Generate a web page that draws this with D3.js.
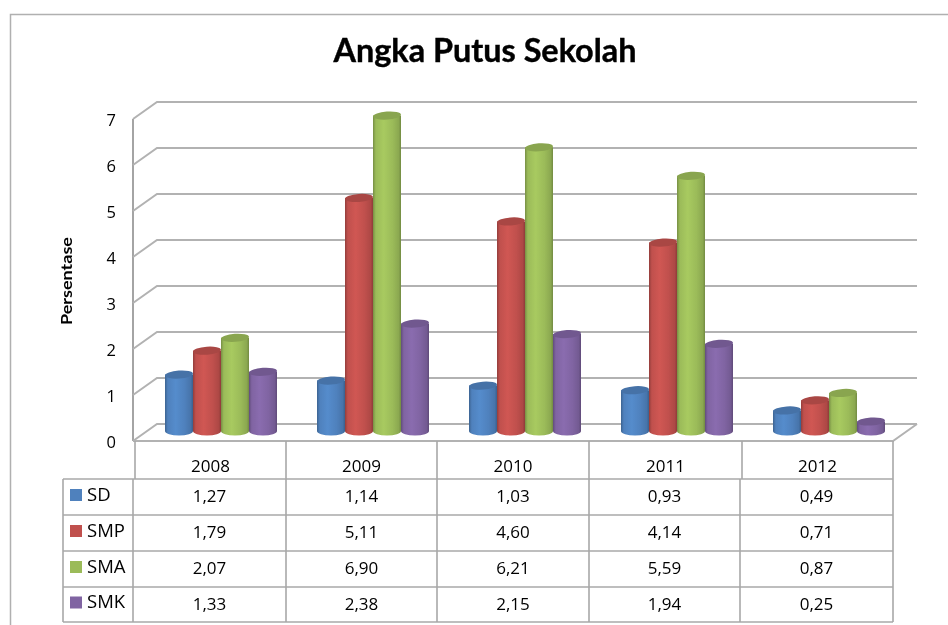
<!DOCTYPE html>
<html><head><meta charset="utf-8">
<script src="https://cdn.jsdelivr.net/npm/d3@7/dist/d3.min.js"></script>
<style>html,body{margin:0;padding:0;background:#fff}svg{display:block;filter:blur(0.35px)}text{fill:#000}</style>
</head><body><svg id="c" width="948" height="625"></svg>
<script>
const years = ["2008","2009","2010","2011","2012"];
const seriesNames = ["SD","SMP","SMA","SMK"];
const SD  = [1.27,1.14,1.03,0.93,0.49];
const SMP = [1.79,5.11,4.60,4.14,0.71];
const SMA = [2.07,6.90,6.21,5.59,0.87];
const SMK = [1.33,2.38,2.15,1.94,0.25];
const seriesValues = [SD,SMP,SMA,SMK];
const seriesColors = ["#4f81bd","#c0504d","#9bbb59","#8064a2"];
const yTicks = [0,1,2,3,4,5,6,7];
const titleText = "Angka Putus Sekolah";
const axisTitle = "Persentase";

const fmt = v => v.toFixed(2).replace(".",",");
const svg = d3.select("#c");
const FONT = "'Open Sans',sans-serif";
const GRID = "#b2b2b2";
const dx = 24, dy = 17;

const y = d3.scaleLinear().domain([0,7]).range([441,119]);
const outer = d3.scaleBand().domain(years).range([145,905]).paddingInner(40/152).paddingOuter(20/152);
const inner = d3.scaleBand().domain(seriesNames).range([0,outer.bandwidth()]);

const defs = svg.append("defs");
seriesColors.forEach((c,i)=>{
  const g = defs.append("linearGradient").attr("id","g"+i);
  const col = d3.color(c);
  [[0,col.darker(.75)],[.1,col],[.38,col.brighter(.22)],[.7,col],[.92,col.darker(.3)],[1,col.darker(.85)]]
    .forEach(([o,k])=>g.append("stop").attr("offset",o).attr("stop-color",k));
});

// page frame
svg.append("path").attr("d","M10.5,625V14.5H948").attr("fill","none").attr("stroke","#b0b0b0").attr("stroke-width",1.5);

svg.append("text").attr("x",485).attr("y",62).attr("text-anchor","middle")
  .attr("font-family","Lato,sans-serif").attr("font-weight",700).attr("font-size",32)
  .style("fill","#000").style("stroke","#000").style("stroke-width",.4)
  .attr("textLength",303).attr("lengthAdjust","spacingAndGlyphs").text(titleText);

// walls and floor
const wall = svg.append("g").attr("fill","none").attr("stroke",GRID).attr("stroke-width",2);
wall.append("path").attr("d",`M133,${y(7)}V${y(0)}`).attr("stroke","#a4a4a4");
wall.selectAll(".grid").data(yTicks).join("path").attr("class","grid")
  .attr("d",d=>`M133,${y(d)}L${133+dx},${y(d)-dy}H917`);
wall.append("path").attr("d",`M133,${y(0)}H893L917,${y(0)-dy}`);

// y axis labels
const axis = svg.append("g").attr("transform","translate(116,1)")
  .call(d3.axisLeft(y).tickValues(yTicks).tickSize(0).tickPadding(0).tickFormat(d3.format("d")));
axis.select(".domain").remove();
axis.selectAll("text").attr("font-family",FONT).attr("font-size",16.5);

svg.append("text").attr("transform","translate(72,281) rotate(-90)").attr("text-anchor","middle")
  .attr("font-family","Lato,sans-serif").attr("font-weight",700).attr("font-size",15.5).style("fill","#000")
  .attr("textLength",88).attr("lengthAdjust","spacingAndGlyphs").text(axisTitle);

// cylinders
const baseLift = 10, topLift = 8, ry = 4;
const bars = svg.append("g");
years.forEach((yr,j)=>{
  seriesNames.forEach((s,i)=>{
    const v = seriesValues[i][j];
    const x0 = outer(yr)+inner(s), w = inner.bandwidth(), rx = w/2;
    const yb = y(0)-baseLift, yt = y(v)-topLift;
    const cx = x0+rx;
    const g = bars.append("g");
    g.append("path")
      .attr("d",`M${x0},${yt}V${yb}A${rx},${ry+.5} 0 0 0 ${x0+w},${yb}V${yt}Z`)
      .attr("fill",`url(#g${i})`);
    g.append("ellipse").attr("cx",cx).attr("cy",yt).attr("rx",rx).attr("ry",ry)
      .attr("transform",`rotate(-4 ${cx} ${yt})`)
      .attr("fill",d3.color(seriesColors[i]).darker(.35));
  });
});

// data table
const colEdges = [133,286,437,589,740,893];
const headEdges = [135,286,437,589,742,893];
const rowEdges = [479,515,551,587,622];
const t = svg.append("g");
const ln = t.append("g").attr("stroke","#a8a8a8").attr("stroke-width",1.6).attr("fill","none");
headEdges.forEach(x=>ln.append("path").attr("d",`M${x},441V479`));
rowEdges.forEach(r=>ln.append("path").attr("d",`M63,${r}H893`));
[63,...colEdges].forEach(x=>ln.append("path").attr("d",`M${x},479V622`));

const txt = (x,yy,s,a,fs)=>t.append("text").attr("x",x).attr("y",yy).attr("text-anchor",a)
  .attr("font-family",FONT).attr("font-size",fs).text(s);
years.forEach((yr,j)=>txt((headEdges[j]+headEdges[j+1])/2,472,yr,"middle",17));
seriesNames.forEach((s,i)=>{
  const mid = (rowEdges[i]+rowEdges[i+1])/2;
  t.append("rect").attr("x",70).attr("y",mid-8).attr("width",12).attr("height",12).attr("fill",seriesColors[i]);
  txt(87,mid+3.5,s,"start",18.5);
  years.forEach((yr,j)=>txt((colEdges[j]+colEdges[j+1])/2,mid+5,fmt(seriesValues[i][j]),"middle",17));
});
</script></body></html>
